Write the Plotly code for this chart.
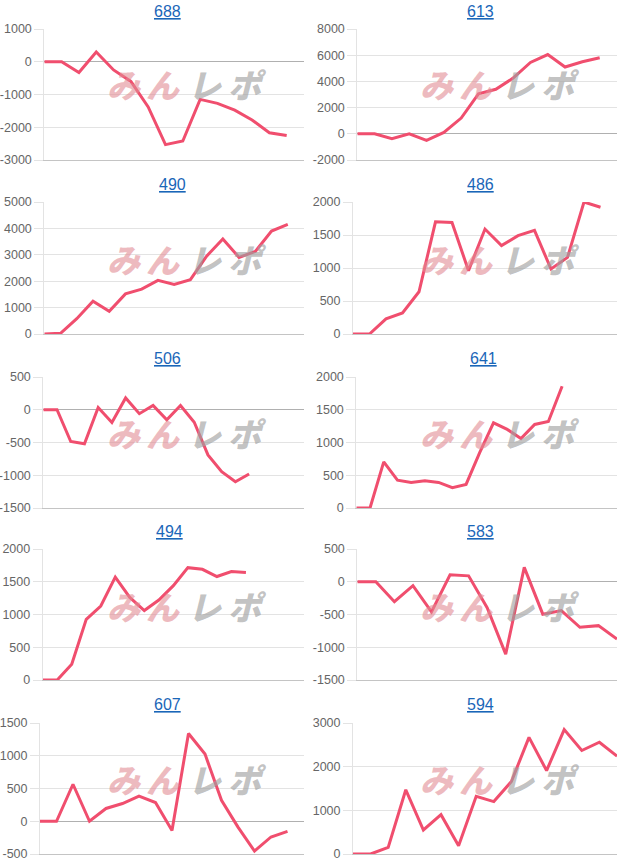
import plotly.graph_objects as go

titles = ["688", "613", "490", "486", "506", "641", "494", "583", "607", "594"]

s688 = [0, 0, -330, 300, -250, -600, -1380, -2530, -2420, -1150, -1270, -1480, -1780, -2170, -2250]
s613 = [0, 0, -380, 0, -500, 100, 1200, 3050, 3400, 4250, 5450, 6050, 5100, 5500, 5800]
s490 = [0, 25, 580, 1240, 860, 1520, 1700, 2030, 1880, 2060, 2950, 3600, 2900, 3130, 3900, 4150]
s486 = [0, 0, 230, 320, 640, 1700, 1690, 960, 1590, 1340, 1490, 1570, 985, 1160, 2000, 1920]
s506 = [0, 0, -485, -520, 35, -195, 180, -60, 65, -155, 65, -190, -690, -945, -1100, -980]
s641 = [0, 0, 705, 425, 390, 415, 390, 310, 360, 850, 1300, 1200, 1060, 1275, 1320, 1860]
s494 = [0, 0, 240, 925, 1130, 1570, 1260, 1060, 1220, 1440, 1715, 1690, 1580, 1655, 1640]
s583 = [0, 0, -305, -60, -460, 105, 90, -395, -1105, 220, -495, -440, -695, -670, -875]
s607 = [0, 0, 565, 0, 195, 270, 385, 285, -140, 1340, 1025, 320, -90, -455, -240, -155]
s594 = [0, 0, 150, 1470, 550, 900, 190, 1320, 1200, 1660, 2670, 1910, 2850, 2370, 2560, 2240]

series = [s688, s613, s490, s486, s506, s641, s494, s583, s607, s594]
label_counts = [16, 16, 17, 17, 20, 20, 19, 15, 17, 16]
y_ranges = [(-3000, 1000), (-2000, 8000), (0, 5000), (0, 2000), (-1500, 500),
            (0, 2000), (0, 2000), (-1500, 500), (-500, 1500), (0, 3000)]
y_steps = [1000, 2000, 1000, 500, 500, 500, 500, 500, 500, 1000]

W, H = 626, 865
plot_left = [44.3, 44.3, 44.3, 40, 43.3, 43.3, 42.7, 44.3, 40, 40]
plot_right = 304
row_top = [29, 202, 377, 549, 723]
row_bot = [160, 334, 508, 680, 854]
title_y = [11, 185, 358, 531, 704]
title_x = [167, 167, 172, 167, 167, 170, 169, 167, 167, 167]
logo_y = [84, 259, 433, 606, 779]
logo_chars = ["み", "ん", "レ", "ポ"]
logo_dx = [-61, -22, 20, 62]
logo_cols = ["rgba(226,140,148,0.6)", "rgba(226,140,148,0.6)",
             "rgba(160,160,160,0.65)", "rgba(160,160,160,0.65)"]

fig = go.Figure()
annotations = []
layout = {}
for i, (t, ys) in enumerate(zip(titles, series)):
    row, col = divmod(i, 2)
    ox = 313 * col
    ax = "" if i == 0 else str(i + 1)
    xa = "x" + ax
    ya = "y" + ax
    fig.add_trace(go.Scatter(
        x=list(range(len(ys))), y=ys, mode="lines",
        line=dict(color="#f04e6e", width=3),
        xaxis=xa, yaxis=ya, showlegend=False, hoverinfo="skip"))
    layout["xaxis" + ax] = dict(
        domain=[(ox + plot_left[i]) / W, (ox + plot_right) / W],
        range=[0, label_counts[i] - 1], showgrid=False, zeroline=False,
        showticklabels=False, ticks="", showline=True, linecolor="#c4c4c4",
        linewidth=1, anchor=ya, fixedrange=True, automargin=False)
    lo, hi = y_ranges[i]
    tv = list(range(lo, hi + 1, y_steps[i]))
    layout["yaxis" + ax] = dict(
        domain=[1 - row_bot[row] / H, 1 - row_top[row] / H],
        range=[lo, hi], tickmode="array", tickvals=tv, ticktext=[str(v) for v in tv],
        showgrid=True, automargin=False,
        gridcolor="#e3e3e3", gridwidth=1, zeroline=True, zerolinecolor="#b0b0b0",
        zerolinewidth=1, showline=True, linecolor="#e3e3e3", linewidth=1,
        ticks="outside", ticklen=9, tickcolor="#e3e3e3", tickwidth=1,
        tickfont=dict(family="Liberation Sans, Arial", size=12.5, color="#666666"),
        anchor=xa, fixedrange=True)
    annotations.append(dict(
        text="<u>" + t + "</u>", x=(ox + title_x[i]) / W, y=1 - title_y[row] / H,
        xref="paper", yref="paper", showarrow=False, xanchor="center", yanchor="middle",
        font=dict(family="Liberation Sans, Arial", size=16, color="#1a66b8")))
    cx = ox + 185
    for ch, dx, c in zip(logo_chars, logo_dx, logo_cols):
        annotations.append(dict(
            text="<i>" + ch + "</i>", x=(cx + dx) / W, y=1 - logo_y[row] / H,
            xref="paper", yref="paper", showarrow=False, xanchor="center", yanchor="middle",
            font=dict(family="Noto Sans CJK JP", size=33, color=c, weight=900)))

fig.update_layout(
    width=W, height=H, margin=dict(l=0, r=0, t=0, b=0, autoexpand=False),
    paper_bgcolor="white", plot_bgcolor="white",
    annotations=annotations, **layout)

fig.write_html("out.html")
